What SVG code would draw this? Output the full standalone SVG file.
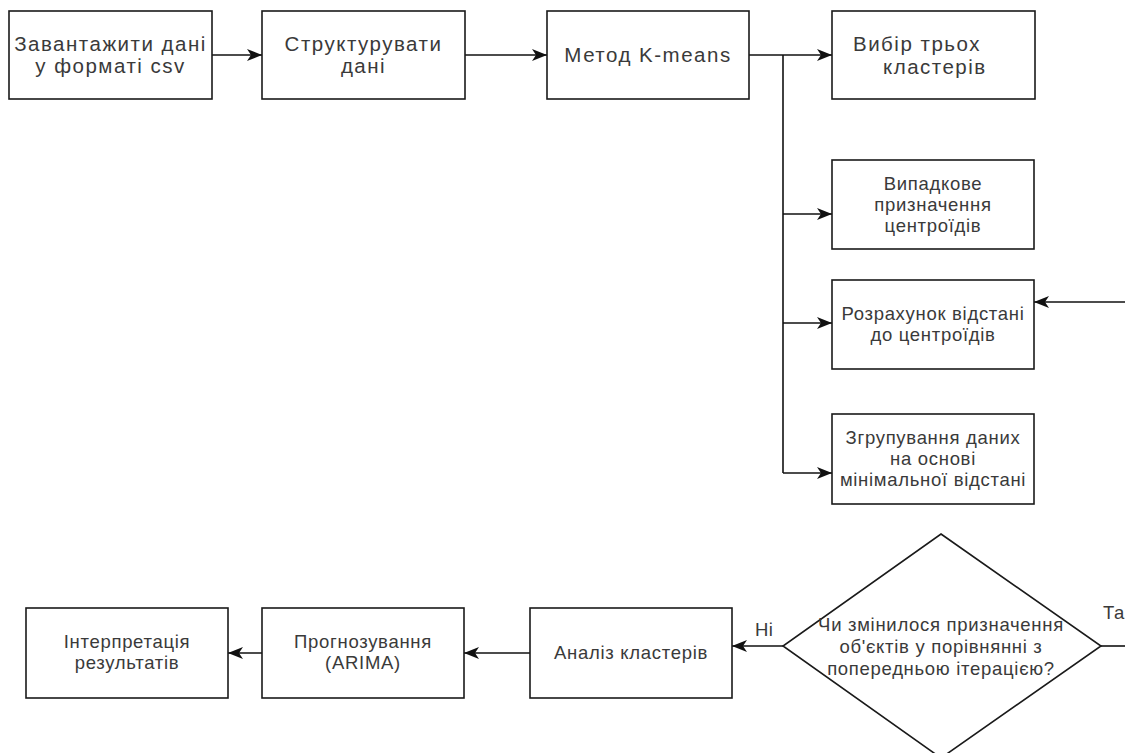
<svg xmlns="http://www.w3.org/2000/svg" width="1125" height="753" viewBox="0 0 1125 753">
  <style>
    .box { fill: #ffffff; stroke: #1a1a1a; stroke-width: 1.6; }
    .edge { fill: none; stroke: #111111; stroke-width: 1.6; }
    .big { font-family: "Liberation Sans", Arial, sans-serif; font-size: 20.5px; letter-spacing: 1.5px; fill: #3a3a3a; text-anchor: middle; }
    .lbl { font-family: "Liberation Sans", Arial, sans-serif; font-size: 18.5px; letter-spacing: 0.7px; fill: #3a3a3a; text-anchor: middle; }
    .edgelbl { font-family: "Liberation Sans", Arial, sans-serif; font-size: 18.5px; letter-spacing: 0.5px; fill: #3a3a3a; }
  </style>
  <defs>
    <marker id="arrow" markerUnits="userSpaceOnUse" markerWidth="15" markerHeight="12" refX="15" refY="6" orient="auto">
      <path d="M0,0 L15,6 L0,12 L4,6 z" fill="#111111"/>
    </marker>
  </defs>
  <rect width="1125" height="753" fill="#ffffff"/>

  <!-- connectors -->
  <g id="connectors">
    <line class="edge" x1="212" y1="55" x2="262" y2="55" marker-end="url(#arrow)"/>
    <line class="edge" x1="465" y1="55" x2="547" y2="55" marker-end="url(#arrow)"/>
    <line class="edge" x1="749" y1="55" x2="832" y2="55" marker-end="url(#arrow)"/>
    <line class="edge" x1="783" y1="55" x2="783" y2="473"/>
    <line class="edge" x1="783" y1="214" x2="832" y2="214" marker-end="url(#arrow)"/>
    <line class="edge" x1="783" y1="323" x2="832" y2="323" marker-end="url(#arrow)"/>
    <line class="edge" x1="783" y1="473" x2="832" y2="473" marker-end="url(#arrow)"/>
    <line class="edge" x1="1125" y1="302" x2="1034" y2="302" marker-end="url(#arrow)"/>
    <line class="edge" x1="1101" y1="646" x2="1125" y2="646"/>
    <line class="edge" x1="783" y1="646" x2="732" y2="646" marker-end="url(#arrow)"/>
    <line class="edge" x1="530" y1="653" x2="464" y2="653" marker-end="url(#arrow)"/>
    <line class="edge" x1="262" y1="653" x2="228" y2="653" marker-end="url(#arrow)"/>
    <text class="edgelbl" x="755" y="636">Ні</text>
    <text class="edgelbl" x="1103" y="619">Та</text>
  </g>

  <g id="load-csv">
    <rect class="box" x="9" y="11" width="203" height="88"/>
    <text class="big" x="110.5" y="51">Завантажити дані</text>
    <text class="big" x="110.5" y="73">у форматі csv</text>
  </g>

  <g id="structure">
    <rect class="box" x="262" y="11" width="203" height="88"/>
    <text class="big" x="363.5" y="51">Структурувати</text>
    <text class="big" x="363.5" y="73">дані</text>
  </g>

  <g id="kmeans">
    <rect class="box" x="547" y="11" width="202" height="88"/>
    <text class="big" x="648" y="62">Метод K-means</text>
  </g>

  <g id="three-clusters">
    <rect class="box" x="832" y="11" width="203" height="88"/>
    <text class="big" x="853" y="51" style="text-anchor:start">Вибір трьох</text>
    <text class="big" x="883" y="74" style="text-anchor:start">кластерів</text>
  </g>

  <g id="init-centroids">
    <rect class="box" x="832" y="160" width="202" height="89"/>
    <text class="lbl" x="933" y="190">Випадкове</text>
    <text class="lbl" x="933" y="211">призначення</text>
    <text class="lbl" x="933" y="232">центроїдів</text>
  </g>

  <g id="distances">
    <rect class="box" x="832" y="280" width="202" height="89"/>
    <text class="lbl" x="933" y="320">Розрахунок відстані</text>
    <text class="lbl" x="933" y="341">до центроїдів</text>
  </g>

  <g id="grouping">
    <rect class="box" x="832" y="414" width="202" height="90"/>
    <text class="lbl" x="933" y="444">Згрупування даних</text>
    <text class="lbl" x="933" y="465">на основі</text>
    <text class="lbl" x="933" y="486">мінімальної відстані</text>
  </g>

  <g id="changed-decision">
    <polygon class="box" points="941,534 1101,646 941,758 783,646"/>
    <text class="lbl" x="941" y="631">Чи змінилося призначення</text>
    <text class="lbl" x="941" y="653">об'єктів у порівнянні з</text>
    <text class="lbl" x="941" y="675">попередньою ітерацією?</text>
  </g>

  <g id="cluster-analysis">
    <rect class="box" x="530" y="608" width="202" height="90"/>
    <text class="lbl" x="631" y="659">Аналіз кластерів</text>
  </g>

  <g id="forecast">
    <rect class="box" x="262" y="608" width="202" height="90"/>
    <text class="lbl" x="363" y="648">Прогнозування</text>
    <text class="lbl" x="363" y="669">(ARIMA)</text>
  </g>

  <g id="interpretation">
    <rect class="box" x="26" y="608" width="202" height="90"/>
    <text class="lbl" x="127" y="648">Інтерпретація</text>
    <text class="lbl" x="127" y="669">результатів</text>
  </g>
</svg>
